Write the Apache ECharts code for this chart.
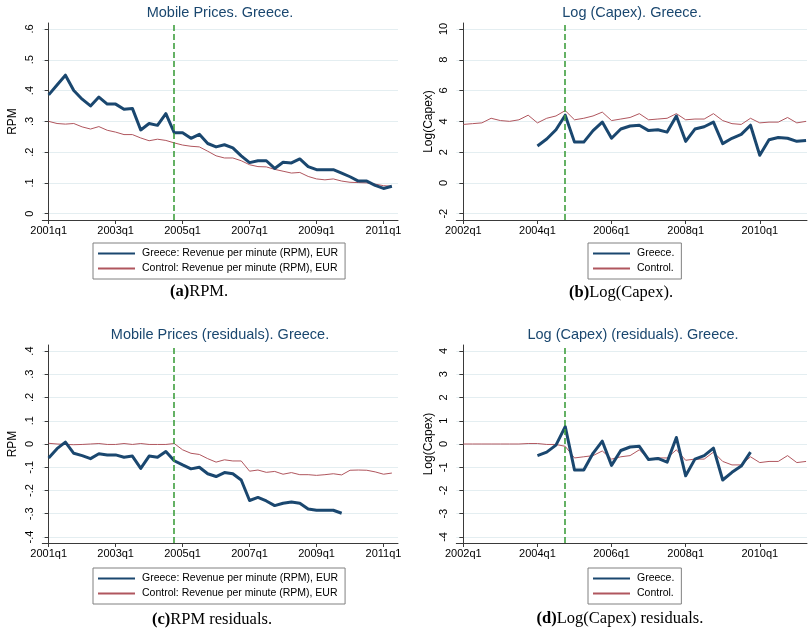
<!DOCTYPE html>
<html>
<head>
<meta charset="utf-8">
<script src="https://cdn.jsdelivr.net/npm/echarts@6/dist/echarts.min.js"></script>
<style>html,body{margin:0;padding:0;background:#fff}#c{width:808px;height:630px}</style>
</head>
<body>
<div id="c"></div>
<script>
// Quarter index 0 = first quarter of each panel's axis
const xTicksA = [0, 8, 16, 24, 32, 40];
const xTickLabelsA = ['2001q1', '2003q1', '2005q1', '2007q1', '2009q1', '2011q1'];
const xTicksB = [0, 8, 16, 24, 32];
const xTickLabelsB = ['2002q1', '2004q1', '2006q1', '2008q1', '2010q1'];

const yTicksA = [0, 0.1, 0.2, 0.3, 0.4, 0.5, 0.6];
const yTickLabelsA = ['0', '.1', '.2', '.3', '.4', '.5', '.6'];
const yTicksB = [-2, 0, 2, 4, 6, 8, 10];
const yTickLabelsB = ['-2', '0', '2', '4', '6', '8', '10'];
const yTicksC = [-0.4, -0.3, -0.2, -0.1, 0, 0.1, 0.2, 0.3, 0.4];
const yTickLabelsC = ['-.4', '-.3', '-.2', '-.1', '0', '.1', '.2', '.3', '.4'];
const yTicksD = [-4, -3, -2, -1, 0, 1, 2, 3, 4];
const yTickLabelsD = ['-4', '-3', '-2', '-1', '0', '1', '2', '3', '4'];

const reformA = 15; // 2004q4 on the 2001q1-based axis
const reformB = 11; // 2004q4 on the 2002q1-based axis

// (a) RPM, 2001q1..2011q2
const greeceRpm = [0.386, 0.418, 0.450, 0.400, 0.372, 0.350, 0.379, 0.356, 0.356, 0.339,
  0.342, 0.272, 0.293, 0.287, 0.325, 0.263, 0.263, 0.245, 0.258, 0.228,
  0.217, 0.224, 0.214, 0.188, 0.166, 0.172, 0.172, 0.147, 0.167, 0.165,
  0.178, 0.153, 0.143, 0.143, 0.143, 0.132, 0.120, 0.106, 0.106, 0.092,
  0.082, 0.089];
const controlRpm = [0.300, 0.293, 0.291, 0.293, 0.282, 0.275, 0.283, 0.271, 0.265, 0.257,
  0.257, 0.246, 0.237, 0.242, 0.238, 0.230, 0.223, 0.219, 0.217, 0.203,
  0.188, 0.181, 0.181, 0.172, 0.159, 0.153, 0.152, 0.144, 0.138, 0.132,
  0.134, 0.121, 0.113, 0.110, 0.113, 0.106, 0.102, 0.101, 0.100, 0.096,
  0.091, 0.089];

// (b) Log(Capex), 2002q1..2011q2
const greeceCapex = [null, null, null, null, null, null, null, null,
  2.40, 2.85, 3.45, 4.40, 2.65, 2.65, 3.40, 3.95, 2.90, 3.50,
  3.70, 3.75, 3.40, 3.45, 3.30, 4.35, 2.70, 3.50, 3.65, 3.95,
  2.55, 2.90, 3.15, 3.75, 1.80, 2.80, 2.95, 2.90, 2.70, 2.75];
const controlCapex = [3.80, 3.85, 3.90, 4.20, 4.05, 4.00, 4.10, 4.40, 3.90, 4.20,
  4.35, 4.70, 4.10, 4.20, 4.35, 4.60, 4.05, 4.15, 4.25, 4.50,
  4.10, 4.15, 4.20, 4.50, 4.10, 4.15, 4.15, 4.50, 4.05, 3.85,
  3.80, 4.20, 3.90, 3.95, 3.95, 4.25, 3.90, 4.00];

// (c) RPM residuals, 2001q1..2011q2
const greeceRpmRes = [-0.060, -0.020, 0.008, -0.040, -0.050, -0.063, -0.042, -0.047, -0.047, -0.057,
  -0.052, -0.105, -0.052, -0.057, -0.032, -0.072, -0.090, -0.107, -0.100, -0.128,
  -0.140, -0.123, -0.128, -0.155, -0.243, -0.230, -0.245, -0.265, -0.255, -0.250,
  -0.255, -0.280, -0.285, -0.285, -0.285, -0.298];
const controlRpmRes = [0.003, 0.000, -0.002, -0.003, -0.002, 0.000, 0.002, -0.002, -0.002, 0.002,
  -0.002, 0.002, -0.002, -0.002, -0.002, 0.002, -0.025, -0.040, -0.045, -0.063,
  -0.078, -0.068, -0.073, -0.073, -0.117, -0.112, -0.122, -0.118, -0.130, -0.123,
  -0.132, -0.132, -0.135, -0.132, -0.128, -0.133, -0.113, -0.112, -0.113, -0.120,
  -0.130, -0.125];

// (d) Log(Capex) residuals, 2002q1..2011q2
const greeceCapexRes = [null, null, null, null, null, null, null, null,
  -0.50, -0.35, -0.05, 0.75, -1.12, -1.12, -0.40, 0.12, -0.92, -0.28,
  -0.13, -0.10, -0.67, -0.62, -0.78, 0.28, -1.37, -0.65, -0.50, -0.18,
  -1.55, -1.22, -0.95, -0.35];
const controlCapexRes = [0.00, 0.00, 0.00, 0.00, 0.00, 0.00, 0.00, 0.02, 0.02, -0.02,
  -0.02, -0.10, -0.60, -0.55, -0.50, -0.30, -0.65, -0.55, -0.50, -0.25,
  -0.65, -0.60, -0.60, -0.25, -0.70, -0.65, -0.65, -0.35, -0.75, -0.90,
  -0.90, -0.55, -0.80, -0.75, -0.75, -0.50, -0.80, -0.75];

const nameG1 = 'Greece: Revenue per minute (RPM), EUR';
const nameC1 = 'Control: Revenue per minute (RPM), EUR';
const nameG2 = 'Greece.';
const nameC2 = 'Control.';

const FONT = '"Liberation Sans", Arial, sans-serif';
const SERIF = '"Liberation Serif", "DejaVu Serif", serif';
const NAVY = '#1a476f';
const MAROON = '#b0565e';
const GREEN = '#3f9f3f';
const GRIDC = '#e4eef1';
const AXISC = '#3a3a3a';

function pairs(arr) {
  const out = [];
  arr.forEach((v, i) => { if (v !== null) out.push([i, v]); });
  return out;
}
function lookup(ticks, labels) {
  return function (v) {
    for (let i = 0; i < ticks.length; i++) if (Math.abs(ticks[i] - v) < 1e-7) return labels[i];
    return '';
  };
}

const grids = [
  { left: 42.3, top: 23, width: 355.7, height: 197 },
  { left: 456.3, top: 23, width: 350.7, height: 197 },
  { left: 42.3, top: 345, width: 355.7, height: 198 },
  { left: 456.3, top: 345, width: 350.7, height: 198 }
];

function xAxisCfg(idx, ticks, labels, max) {
  return {
    type: 'value', gridIndex: idx, min: -0.76, max: max,
    axisLine: { show: true, onZero: false, lineStyle: { color: AXISC, width: 1 } },
    axisTick: { show: true, customValues: ticks, length: 4, lineStyle: { color: AXISC } },
    axisLabel: { customValues: ticks, formatter: lookup(ticks, labels), margin: 5,
      fontSize: 11, color: '#000', fontFamily: FONT },
    splitLine: { show: false }
  };
}
function yAxisCfg(idx, ticks, labels, min, max, name, gap) {
  return {
    type: 'value', gridIndex: idx, min: min, max: max,
    name: name, nameLocation: 'middle', nameGap: gap,
    nameTextStyle: { fontSize: 12, color: '#000', fontFamily: FONT },
    axisLine: { show: true, lineStyle: { color: AXISC, width: 1 } },
    axisTick: { show: true, customValues: ticks, length: 4, lineStyle: { color: AXISC } },
    axisLabel: { customValues: ticks, formatter: lookup(ticks, labels), rotate: 90, margin: 7,
      fontSize: 11, color: '#000', fontFamily: FONT },
    splitLine: { show: true, lineStyle: { color: GRIDC, width: 1 } }
  };
}

function reformLine(x) {
  return {
    silent: true, symbol: ['none', 'none'], animation: false,
    label: { show: false },
    lineStyle: { color: GREEN, width: 1.6, type: [6, 3] },
    data: [{ xAxis: x }]
  };
}
function ctrlSeries(name, idx, arr, reform) {
  return {
    type: 'line', name: name, xAxisIndex: idx, yAxisIndex: idx, data: pairs(arr),
    symbol: 'none', showSymbol: false, animation: false, z: 2,
    lineStyle: { color: MAROON, width: 1 }, itemStyle: { color: MAROON },
    markLine: reformLine(reform)
  };
}
function grSeries(name, idx, arr) {
  return {
    type: 'line', name: name, xAxisIndex: idx, yAxisIndex: idx, data: pairs(arr),
    symbol: 'none', showSymbol: false, animation: false, z: 3,
    lineStyle: { color: NAVY, width: 3, join: 'round' }, itemStyle: { color: NAVY }
  };
}

function legendCfg(left, top, names) {
  return {
    left: left, top: top, orient: 'vertical', selectedMode: false,
    data: names, itemWidth: 37, itemHeight: 10, itemGap: 4,
    padding: [5, 7, 5, 4], borderColor: '#808080', borderWidth: 1,
    itemStyle: { opacity: 0, borderWidth: 0 },
    textStyle: { fontSize: 10.5, color: '#000', fontFamily: FONT, padding: [0, 0, 0, 2] }
  };
}

function titleText(x, y, text) {
  return { type: 'text', x: x, y: y, silent: true,
    style: { text: text, fill: NAVY, fontSize: 14.5, fontFamily: FONT,
      align: 'center', verticalAlign: 'middle' } };
}
function caption(x, y, letter, rest) {
  return { type: 'text', x: x, y: y, silent: true,
    style: { text: '{b|' + letter + '}{n|' + rest + '}', align: 'center', verticalAlign: 'middle',
      rich: {
        b: { fontSize: 16.5, fontWeight: 'bold', fontFamily: SERIF, fill: '#000' },
        n: { fontSize: 16.5, fontFamily: SERIF, fill: '#000' }
      } } };
}

const chart = echarts.init(document.getElementById('c'), null, { renderer: 'canvas' });
chart.setOption({
  backgroundColor: '#ffffff',
  animation: false,
  grid: grids,
  xAxis: [
    xAxisCfg(0, xTicksA, xTickLabelsA, 41.73),
    xAxisCfg(1, xTicksB, xTickLabelsB, 37.1),
    xAxisCfg(2, xTicksA, xTickLabelsA, 41.73),
    xAxisCfg(3, xTicksB, xTickLabelsB, 37.1)
  ],
  yAxis: [
    yAxisCfg(0, yTicksA, yTickLabelsA, -0.0205, 0.6195, 'RPM', 24),
    yAxisCfg(1, yTicksB, yTickLabelsB, -2.41, 10.39, 'Log(Capex)', 22),
    yAxisCfg(2, yTicksC, yTickLabelsC, -0.426, 0.426, 'RPM', 24),
    yAxisCfg(3, yTicksD, yTickLabelsD, -4.26, 4.26, 'Log(Capex)', 22)
  ],
  legend: [
    legendCfg(93, 243, [nameG1, nameC1]),
    legendCfg(588, 243, [nameG2, nameC2]),
    legendCfg(93, 568, [nameG1, nameC1]),
    legendCfg(588, 568, [nameG2, nameC2])
  ],
  graphic: [
    titleText(220, 13, 'Mobile Prices. Greece.'),
    titleText(632, 13, 'Log (Capex). Greece.'),
    titleText(220, 335, 'Mobile Prices (residuals). Greece.'),
    titleText(633, 335, 'Log (Capex) (residuals). Greece.'),
    caption(199, 292, '(a)', 'RPM.'),
    caption(621, 293, '(b)', 'Log(Capex).'),
    caption(212, 620, '(c)', 'RPM residuals.'),
    caption(620, 619, '(d)', 'Log(Capex) residuals.')
  ],
  series: [
    ctrlSeries(nameC1, 0, controlRpm, reformA),
    grSeries(nameG1, 0, greeceRpm),
    ctrlSeries(nameC2, 1, controlCapex, reformB),
    grSeries(nameG2, 1, greeceCapex),
    ctrlSeries(nameC1, 2, controlRpmRes, reformA),
    grSeries(nameG1, 2, greeceRpmRes),
    ctrlSeries(nameC2, 3, controlCapexRes, reformB),
    grSeries(nameG2, 3, greeceCapexRes)
  ]
});
</script>
</body>
</html>
